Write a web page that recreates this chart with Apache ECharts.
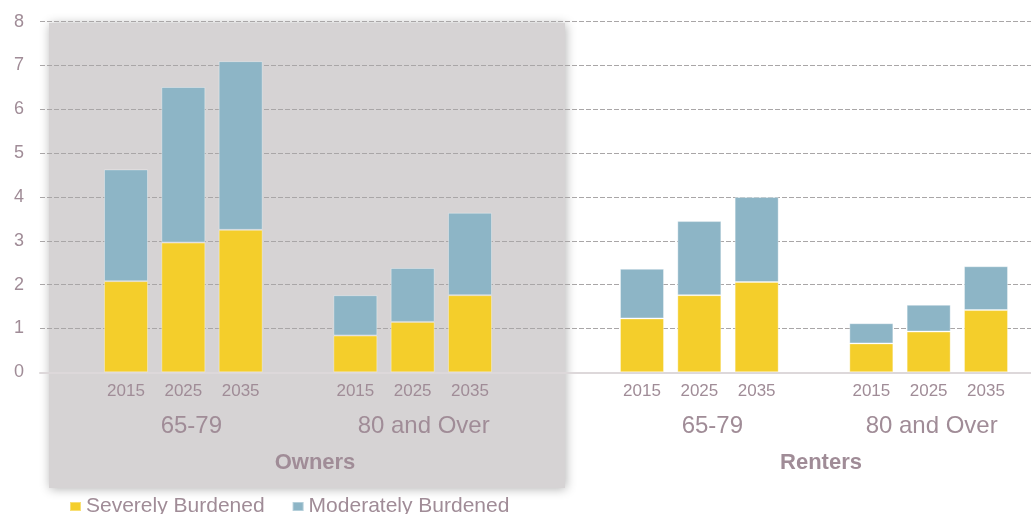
<!DOCTYPE html>
<html>
<head>
<meta charset="utf-8">
<script src="https://cdn.jsdelivr.net/npm/echarts@6/dist/echarts.min.js"></script>
<style>
  html, body { margin: 0; padding: 0; background: #fff; overflow: hidden; }
  /* the plot runs past the right edge of the picture, so the canvas is wider than the window */
  #chart { width: 1072px; height: 514px; }
</style>
</head>
<body>
<div id="chart"></div>
<script>
const years = ["2015", "2025", "2035"]
const ageGroups = ["65-79", "80 and Over", "65-79", "80 and Over"]
const tenures = ["Owners", "Renters"]
// millions of households, per age group x year
const severelyBurdened = [2.08, 2.96, 3.25, 0.84, 1.15, 1.76, 1.23, 1.76, 2.06, 0.66, 0.93, 1.42]
const moderatelyBurdened = [2.55, 3.55, 3.85, 0.92, 1.23, 1.88, 1.13, 1.69, 1.94, 0.46, 0.61, 1.00]
const yTicks = [0, 1, 2, 3, 4, 5, 6, 7, 8]

// layout on an 18 slot category axis (empty slots are gaps)
const slotCount = 18
const groupStart = [1, 5, 10, 14]
const groupShift = [8, 11, 13, 3]
const tenureSlot = [4, 13]
const tenureShift = [17, 7]

const textColor = "#a08c97"
const font = "Liberation Sans, Arial, sans-serif"

const yearCats = []
const groupCats = []
const tenureCats = []
const severeData = []
const moderateData = []
for (let i = 0; i < slotCount; i++) {
  yearCats.push({value: "s" + i, label: ""})
  groupCats.push({value: "g" + i, label: ""})
  tenureCats.push({value: "t" + i, label: ""})
  severeData.push("-")
  moderateData.push("-")
}
groupStart.forEach((start, g) => {
  years.forEach((y, k) => {
    const idx = start + k
    yearCats[idx].label = y
    severeData[idx] = severelyBurdened[g * 3 + k]
    moderateData[idx] = moderatelyBurdened[g * 3 + k]
  })
  const mid = start + 1
  groupCats[mid].label = ageGroups[g]
  groupCats[mid].textStyle = {padding: [0, 0, 0, groupShift[g] * 2]}
})
tenureSlot.forEach((s, t) => {
  tenureCats[s].label = tenures[t]
  tenureCats[s].textStyle = {padding: [0, 0, 0, tenureShift[t] * 2]}
})

const labelAxis = (cats, margin, size, weight) => ({
  type: "category",
  position: "bottom",
  data: cats.map(c => ({value: c.value, textStyle: c.textStyle})),
  axisLine: {show: false},
  axisTick: {show: false},
  axisLabel: {
    interval: 0,
    margin: margin,
    color: textColor,
    fontSize: size,
    fontWeight: weight,
    fontFamily: font,
    formatter: (v, i) => cats[i].label
  }
})

const chart = echarts.init(document.getElementById("chart"))
chart.setOption({
  animation: false,
  backgroundColor: "#ffffff",
  grid: {left: 40, right: 0, top: 21.7, height: 350.6},
  graphic: [{
    type: "rect",
    z: -10,
    shape: {x: 49, y: 23, width: 516, height: 465},
    style: {fill: "#d6d3d4", shadowBlur: 10, shadowColor: "rgba(0,0,0,0.3)", shadowOffsetX: 1, shadowOffsetY: 1}
  }],
  legend: {
    left: 64,
    top: 491,
    itemWidth: 11,
    itemHeight: 9,
    itemGap: 27,
    icon: "rect",
    textStyle: {color: textColor, fontSize: 21, fontFamily: font, padding: [4, 0, 0, 0]},
    data: ["Severely Burdened", "Moderately Burdened"]
  },
  xAxis: [
    {
      type: "category",
      data: yearCats.map(c => c.value),
      axisLine: {lineStyle: {color: "#ddd8da", width: 2}},
      axisTick: {length: 4, lineStyle: {color: "#ddd8da"}},
      axisLabel: {
        interval: 0,
        margin: 11,
        color: textColor,
        fontSize: 17,
        fontFamily: font,
        formatter: (v, i) => yearCats[i].label
      }
    },
    labelAxis(groupCats, 42, 24, "normal"),
    labelAxis(tenureCats, 80, 22, "bold")
  ],
  yAxis: {
    type: "value",
    min: yTicks[0],
    max: yTicks[yTicks.length - 1],
    interval: 1,
    axisLine: {show: false},
    axisTick: {show: false},
    axisLabel: {margin: 16, color: textColor, fontSize: 18, fontFamily: font},
    splitLine: {lineStyle: {color: "#a9a6a7", type: [5, 2], width: 1.2}}
  },
  series: [
    {
      name: "Severely Burdened",
      type: "bar",
      stack: "total",
      barWidth: 44,
      data: severeData,
      itemStyle: {color: "#f4ce2b", borderColor: "rgba(255,255,255,0.35)", borderWidth: 1},
      emphasis: {disabled: true}
    },
    {
      name: "Moderately Burdened",
      type: "bar",
      stack: "total",
      barWidth: 44,
      data: moderateData,
      itemStyle: {color: "#8db5c6", borderColor: "rgba(255,255,255,0.35)", borderWidth: 1},
      emphasis: {disabled: true}
    }
  ]
})
</script>
</body>
</html>
